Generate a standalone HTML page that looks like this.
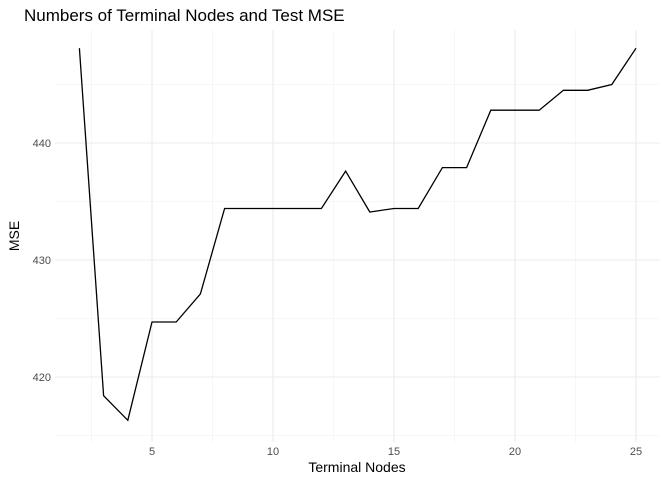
<!DOCTYPE html>
<html><head><meta charset="utf-8"><style>
body{margin:0;background:#fff;}
svg text{font-family:"Liberation Sans",sans-serif;}
</style></head><body>
<svg id="chart" width="672" height="480" xmlns="http://www.w3.org/2000/svg">
<text x="24" y="21" font-size="17" fill="#000">Numbers of Terminal Nodes and Test MSE</text>
<g id="grid"></g>
<g id="ticks"></g>
<path id="line" fill="none" stroke="#000" stroke-width="1.3"/>
<text x="357" y="472" font-size="14" text-anchor="middle">Terminal Nodes</text>
<text transform="translate(19,236) rotate(-90)" font-size="14" text-anchor="middle">MSE</text>
</svg>
<script>
const nodes=[2,3,4,5,6,7,8,9,10,11,12,13,14,15,16,17,18,19,20,21,22,23,24,25];
const mse=[448.1,418.4,416.3,424.7,424.7,427.1,434.4,434.4,434.4,434.4,434.4,437.6,434.1,434.4,434.4,437.9,437.9,442.8,442.8,442.8,444.5,444.5,445.0,448.1];
const xTicks=[5,10,15,20,25];
const yTicks=[420,430,440];
const xMinor=[2.5,7.5,12.5,17.5,22.5];
const yMinor=[415,425,435,445];
const L=55,R=660,T=30,B=442;
const x=v=>152+(v-5)*24.2;
const y=v=>143-(v-440)*11.7;
const ns="http://www.w3.org/2000/svg";
const grid=document.getElementById('grid'),ticks=document.getElementById('ticks');
function ln(x1,y1,x2,y2,w,c){const e=document.createElementNS(ns,'line');e.setAttribute('x1',x1);e.setAttribute('y1',y1);e.setAttribute('x2',x2);e.setAttribute('y2',y2);e.setAttribute('stroke',c);e.setAttribute('stroke-width',w);grid.appendChild(e);return e;}
xMinor.forEach(v=>{const e=ln(x(v),T,x(v),B,0.6,'#f0f0f0');

});
yMinor.forEach(v=>{if(y(v)<T||y(v)>B)return;const e=ln(L,y(v),R,y(v),0.6,'#f0f0f0');

});
xTicks.forEach(v=>{const e=ln(x(v),T,x(v),B,1.1,'#ebebeb');


const t=document.createElementNS(ns,'text');t.setAttribute('x',x(v));t.setAttribute('y',455);t.setAttribute('font-size','11');t.setAttribute('fill','#4d4d4d');t.setAttribute('text-anchor','middle');t.textContent=v;


ticks.appendChild(t);});
yTicks.forEach(v=>{const e=ln(L,y(v),R,y(v),1.1,'#ebebeb');


const t=document.createElementNS(ns,'text');t.setAttribute('x',51);t.setAttribute('y',y(v)+4);t.setAttribute('font-size','11');t.setAttribute('fill','#4d4d4d');t.setAttribute('text-anchor','end');t.textContent=v;


ticks.appendChild(t);});
document.getElementById('line').setAttribute('d',nodes.map((n,i)=>(i?'L':'M')+x(n).toFixed(1)+','+y(mse[i]).toFixed(1)).join(''));
</script>
</body></html>
